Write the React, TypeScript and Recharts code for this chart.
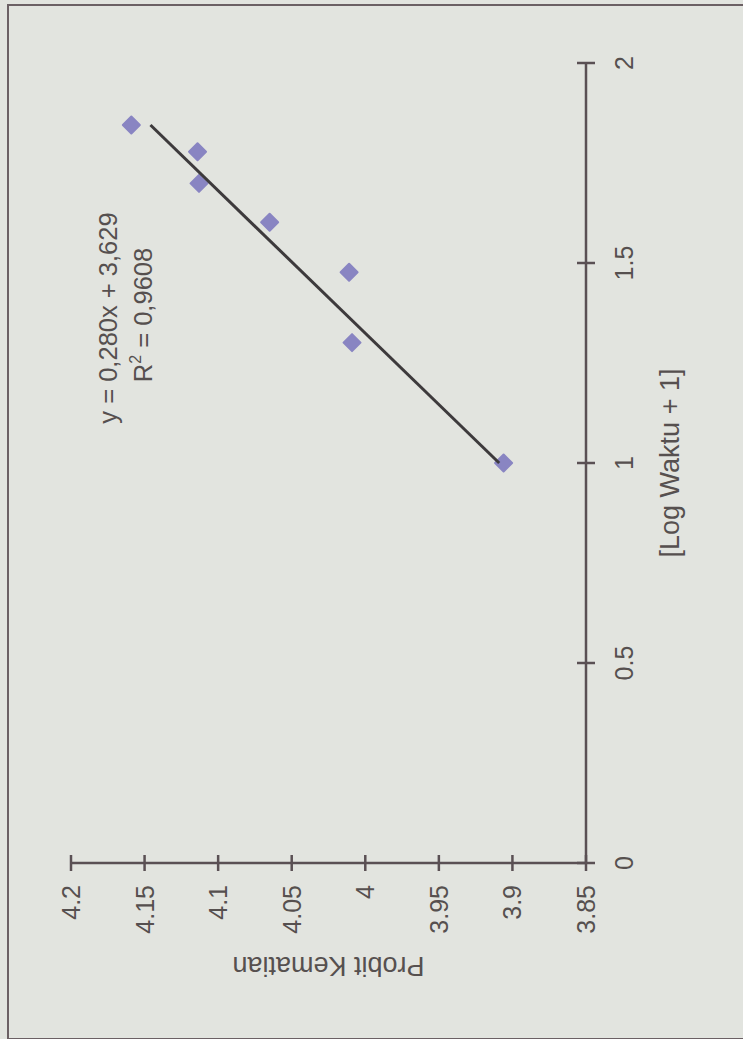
import React from "react";
import { ScatterChart, Scatter, XAxis, YAxis } from "recharts";

// Log Waktu + 1 vs probit kematian
const logWaktu = [1, 1.301, 1.477, 1.602, 1.699, 1.778, 1.845];
const probit = [3.906, 4.009, 4.011, 4.065, 4.113, 4.114, 4.159];

// linear trend line end points (y = 0,280x + 3,629)
const trendX = [1, 1.845];
const trendY = [3.909, 4.146];

const xTicks = [0, 0.5, 1, 1.5, 2];
const yTicks = [3.85, 3.9, 3.95, 4, 4.05, 4.1, 4.15, 4.2];

const points = logWaktu.map((x, i) => ({ x, y: probit[i] }));
const trend = trendX.map((x, i) => ({ x, y: trendY[i] }));

// chart is drawn lying on its side, then turned 90deg to the left
const W = 1039;
const H = 743;
const BG = "#e2e4df";
const AXIS = "#5a5054";
const TEXT = "#56504f";
const FONT = '"Liberation Sans", Arial, sans-serif';

function XTick(props: any) {
  const { x, y, payload } = props;
  return (
    <g>
      <line x1={x} x2={x} y1={y - 9} y2={y + 9} stroke={AXIS} strokeWidth={2.5} />
      <text x={x} y={y + 47} textAnchor="middle" fill={TEXT} fontSize={25} fontFamily={FONT}>
        {String(payload.value)}
      </text>
    </g>
  );
}

function YTick(props: any) {
  const { x, y, payload } = props;
  return (
    <g>
      <line x1={x - 8} x2={x + 8} y1={y} y2={y} stroke={AXIS} strokeWidth={2.5} />
      <text x={x - 22} y={y + 9} textAnchor="end" fill={TEXT} fontSize={25} fontFamily={FONT}>
        {String(payload.value)}
      </text>
    </g>
  );
}

function YTitle(props: any) {
  const vb = props.viewBox || { x: 0, y: 71, width: 176, height: 515 };
  const x = vb.x + 82;
  const y = vb.y + vb.height / 2;
  return (
    <text
      x={x}
      y={y}
      transform={`rotate(-90, ${x}, ${y})`}
      textAnchor="middle"
      fill={TEXT}
      fontSize={27}
      fontFamily={FONT}
    >
      Probit Kematian
    </text>
  );
}

function Diamond(props: any) {
  const { cx, cy } = props;
  const r = 8.5;
  return (
    <polygon
      points={`${cx},${cy - r} ${cx + r},${cy} ${cx},${cy + r} ${cx - r},${cy}`}
      fill="#8985c2"
      stroke="#8985c2"
      strokeWidth={2}
      strokeLinejoin="round"
    />
  );
}

export default function App() {
  return (
    <div
      style={{
        position: "fixed",
        left: 0,
        top: 0,
        width: H,
        height: W,
        overflow: "hidden",
        background: BG,
      }}
    >
      <div
        style={{
          position: "absolute",
          left: 7,
          top: 4,
          width: 800,
          height: 1032,
          borderTop: "2px solid #6b6064",
          borderLeft: "2px solid #6b6064",
          borderBottom: "2px solid #6b6064",
        }}
      />
      <div
        style={{
          position: "absolute",
          left: 0,
          top: 0,
          width: W,
          height: H,
          transformOrigin: "0 0",
          transform: `translateY(${W}px) rotate(-90deg)`,
        }}
      >
        <ScatterChart width={W} height={H} margin={{ top: 71, right: 63, left: 0, bottom: 0 }}>
          <XAxis
            type="number"
            dataKey="x"
            domain={[0, 2]}
            ticks={xTicks}
            height={157}
            tickSize={0}
            tickMargin={0}
            tickLine={false}
            axisLine={{ stroke: AXIS, strokeWidth: 2.5 }}
            tick={<XTick />}
            interval={0}
            label={{
              value: "[Log Waktu + 1]",
              position: "insideBottom",
              offset: 64,
              fill: TEXT,
              fontSize: 27,
              fontFamily: FONT,
            }}
          />
          <YAxis
            type="number"
            dataKey="y"
            domain={[3.85, 4.2]}
            ticks={yTicks}
            width={176}
            tickSize={0}
            tickMargin={0}
            tickLine={false}
            axisLine={{ stroke: AXIS, strokeWidth: 2.5 }}
            tick={<YTick />}
            interval={0}
            allowDataOverflow
            label={<YTitle />}
          />
          <Scatter data={points} shape={<Diamond />} isAnimationActive={false} />
          <Scatter
            data={trend}
            line={{ stroke: "#3d3a3c", strokeWidth: 3 }}
            shape={() => <g />}
            isAnimationActive={false}
          />
        </ScatterChart>
        <svg
          width={W}
          height={H}
          style={{ position: "absolute", left: 0, top: 0, pointerEvents: "none" }}
        >
          <text x={721} y={117} textAnchor="middle" fill={TEXT} fontSize={25.5} fontFamily={FONT}>
            y = 0,280x + 3,629
          </text>
          <text x={724} y={152} textAnchor="middle" fill={TEXT} fontSize={25.5} fontFamily={FONT}>
            R<tspan dy={-11} fontSize={16}>2</tspan>
            <tspan dy={11}> = 0,9608</tspan>
          </text>
        </svg>
      </div>
    </div>
  );
}
